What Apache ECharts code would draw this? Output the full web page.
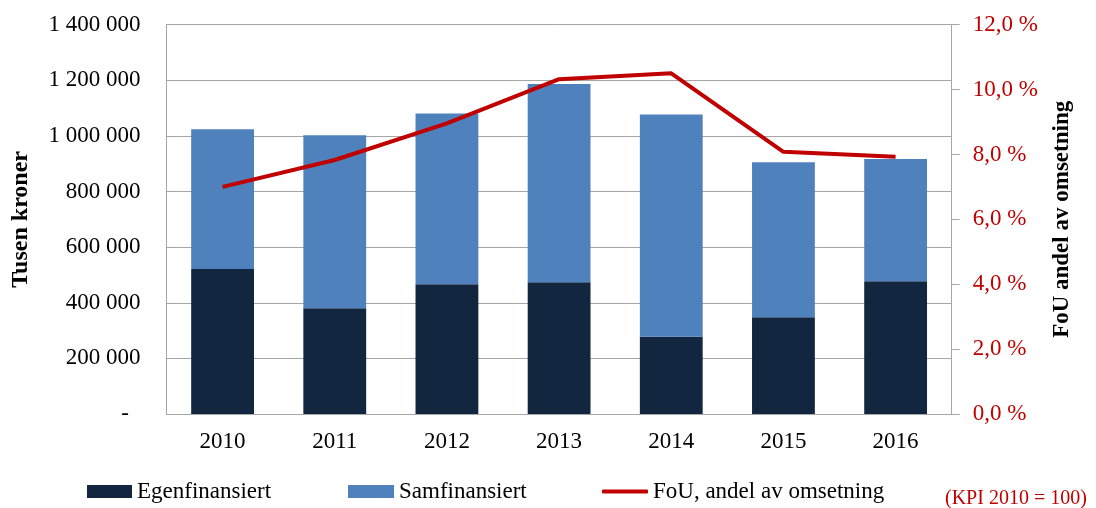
<!DOCTYPE html>
<html>
<head>
<meta charset="utf-8">
<script src="https://cdn.jsdelivr.net/npm/echarts@6/dist/echarts.min.js"></script>
<style>
  html,body{margin:0;padding:0;background:#fff;}
  #chart{width:1096px;height:508px;}
</style>
</head>
<body>
<div id="chart"></div>
<script>
var years = ['2010','2011','2012','2013','2014','2015','2016'];
var egenfinansiert = [521600, 380000, 466400, 473600, 278100, 347700, 477200];
var samfinansiert = [502400, 622400, 613900, 713400, 798600, 557500, 440000];
var fouAndel = [7.0, 7.83, 8.96, 10.32, 10.5, 8.08, 7.93];

var serif = '"Liberation Serif", "Times New Roman", serif';
var red = '#c00000';
var gridGray = '#a6a6a6';

function fmtThousands(v){
	if(v === 0) return '-  ';
	return String(v).replace(/\B(?=(\d{3})+(?!\d))/g, ' ');
}
function fmtPct(v){
	return v.toFixed(1).replace('.', ',') + ' %';
}

var myChart = echarts.init(document.getElementById('chart'));
var option = {
	animation: false,
	grid: {left: 166.5, right: 144.3, top: 24.7, bottom: 94, containLabel: false, outerBoundsMode: 'none'},
	legend: [
		{
			left: 82, top: 475, itemWidth: 45, itemHeight: 13, itemGap: 0,
			textStyle: {fontFamily: serif, fontSize: 23, color: '#000'},
			data: [{name: 'Egenfinansiert', icon: 'rect'}]
		},
		{
			left: 343, top: 475, itemWidth: 46, itemHeight: 13, itemGap: 0,
			textStyle: {fontFamily: serif, fontSize: 23, color: '#000'},
			data: [{name: 'Samfinansiert', icon: 'rect'}]
		},
		{
			left: 597, top: 475, itemWidth: 46, itemHeight: 4, itemGap: 0,
			textStyle: {fontFamily: serif, fontSize: 23, color: '#000'},
			data: [{name: 'FoU, andel av omsetning', icon: 'roundRect'}]
		}
	],
	xAxis: {
		type: 'category',
		data: years,
		axisLine: {lineStyle: {color: gridGray, width: 1}},
		axisTick: {show: false},
		axisLabel: {fontFamily: serif, fontSize: 23, color: '#000', margin: 16}
	},
	yAxis: [
		{
			type: 'value',
			min: 0, max: 1400000, interval: 200000,
			name: 'Tusen kroner',
			nameLocation: 'middle',
			nameGap: 134,
			nameTextStyle: {fontFamily: serif, fontSize: 24, fontWeight: 'bold', color: '#000'},
			axisLine: {show: true, lineStyle: {color: gridGray}},
			axisTick: {show: false},
			splitLine: {lineStyle: {color: gridGray, width: 1}},
			axisLabel: {fontFamily: serif, fontSize: 23, color: '#000', margin: 26, formatter: fmtThousands}
		},
		{
			type: 'value',
			min: 0, max: 12, interval: 2,
			position: 'right',
			name: 'FoU andel av omsetning',
			nameLocation: 'middle',
			nameGap: 99,
			nameRotate: 90,
			nameTextStyle: {fontFamily: serif, fontSize: 23, fontWeight: 'bold', color: '#000'},
			axisLine: {show: true, lineStyle: {color: gridGray}},
			axisTick: {show: true, length: 8, inside: false, lineStyle: {color: gridGray}},
			splitLine: {show: false},
			axisLabel: {fontFamily: serif, fontSize: 23, color: red, margin: 21, formatter: fmtPct}
		}
	],
	series: [
		{
			name: 'Egenfinansiert',
			type: 'bar',
			stack: 'sum',
			barCategoryGap: '44%',
			itemStyle: {color: '#13263f'},
			data: egenfinansiert
		},
		{
			name: 'Samfinansiert',
			type: 'bar',
			stack: 'sum',
			barCategoryGap: '44%',
			itemStyle: {color: '#4f81bd'},
			data: samfinansiert
		},
		{
			name: 'FoU, andel av omsetning',
			type: 'line',
			yAxisIndex: 1,
			symbol: 'none',
			itemStyle: {color: red},
			lineStyle: {color: red, width: 4},
			data: fouAndel
		}
	],
	graphic: [
		{
			type: 'text',
			left: 945, top: 489,
			style: {text: '(KPI 2010 = 100)', fontFamily: serif, fontSize: 20, fill: red}
		}
	]
};
myChart.setOption(option);
</script>
</body>
</html>
